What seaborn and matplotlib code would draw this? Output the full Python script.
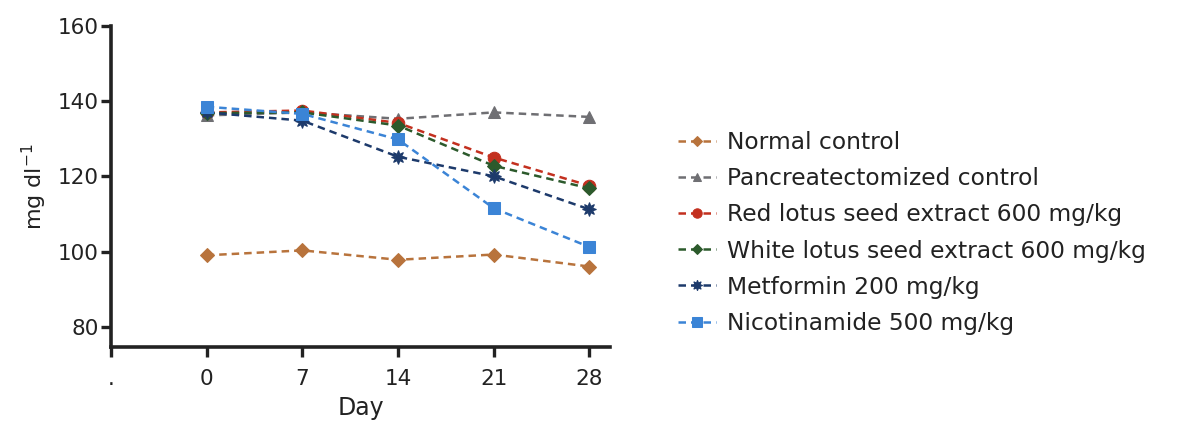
import pandas as pd
import matplotlib
matplotlib.use('Agg')
import matplotlib.pyplot as plt
import seaborn as sns

# Data
days = [0, 7, 14, 21, 28]
groups = ['Normal control', 'Pancreatectomized control',
          'Red lotus seed extract 600 mg/kg', 'White lotus seed extract 600 mg/kg',
          'Metformin 200 mg/kg', 'Nicotinamide 500 mg/kg']
normal = [99.0, 100.3, 97.8, 99.2, 96.0]
pancreatectomized = [136.2, 137.0, 135.3, 137.0, 135.8]
red_lotus = [137.0, 137.5, 134.2, 125.0, 117.5]
white_lotus = [136.8, 137.0, 133.5, 122.8, 116.8]
metformin = [137.0, 134.8, 125.2, 120.0, 111.2]
nicotinamide = [138.5, 136.6, 129.8, 111.5, 101.2]

colors = ['#b8733c', '#6f6f73', '#c3301f', '#2c5a2c', '#1d3a6b', '#3b84d6']
markers = ['D', '^', 'o', 'D', (8, 1, 0), 's']
sizes = [7, 8, 9, 7, 10, 9]

series = [normal, pancreatectomized, red_lotus, white_lotus, metformin, nicotinamide]
df = pd.DataFrame([(d, v, g) for g, vals in zip(groups, series) for d, v in zip(days, vals)],
                  columns=['Day', 'value', 'group'])

sns.set_style('ticks')
plt.rcParams['font.family'] = ['DejaVu Sans']

fig = plt.figure(figsize=(11.81, 4.25), dpi=100)
ax = fig.add_axes([0.094, 0.1835, 0.4225, 0.7555])

for g, c, m, s in zip(groups, colors, markers, sizes):
    sub = df[df['group'] == g]
    sns.lineplot(data=sub, x='Day', y='value', ax=ax, color=c, marker=m,
                 markersize=s, markeredgecolor=c, linewidth=1.8,
                 dashes=False, label=g)
for line in ax.lines:
    line.set_dashes((3, 2))

ax.set_xlim(-7, 29.5)
ax.set_ylim(74.6, 160)
ax.set_xticks([-7] + days)
ax.set_xticklabels(['.'] + [str(d) for d in days])
ax.set_yticks([80, 100, 120, 140, 160])
sns.despine(ax=ax)
ax.tick_params(axis='both', which='major', direction='out', labelsize=15.5,
               width=2.4, length=7, color='#222222', labelcolor='#222222')
ax.tick_params(axis='x', pad=9)
ax.tick_params(axis='y', pad=2)
for sp in ['left', 'bottom']:
    ax.spines[sp].set_linewidth(2.6)
    ax.spines[sp].set_color('#222222')
for tk in ax.xaxis.get_major_ticks() + ax.yaxis.get_major_ticks():
    tk.tick1line.set_visible(True)
    tk.tick1line.set_markeredgewidth(2.4)
    tk.tick1line.set_color('#222222')
ax.set_xlabel('Day', fontsize=17, labelpad=5, color='#222222')
ax.set_ylabel(r'mg dl$^{\mathregular{-1}}$', fontsize=16, labelpad=6, color='#222222')

leg = ax.legend(loc='center left', bbox_to_anchor=(1.095, 0.355), frameon=False,
                fontsize=16.8, handlelength=1.6, handletextpad=0.5,
                labelspacing=0.56, markerscale=0.75)
for t in leg.get_texts():
    t.set_color('#222222')

plt.savefig('out.png', dpi=100)
